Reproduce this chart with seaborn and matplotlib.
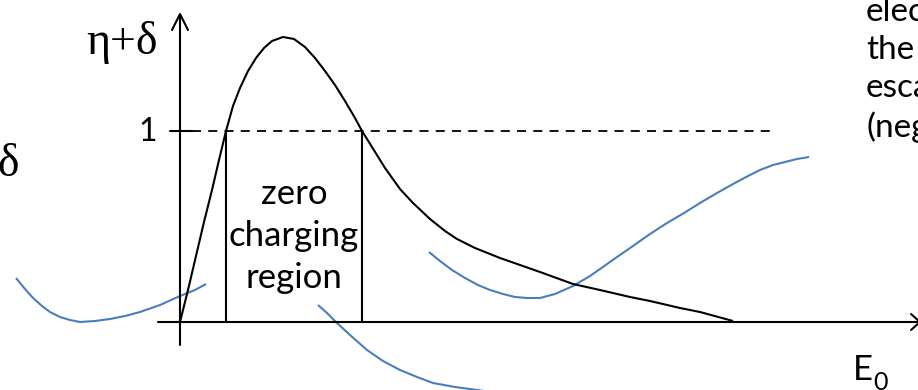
import matplotlib
matplotlib.use("Agg")
import matplotlib.pyplot as plt
import seaborn as sns
import pandas as pd

# ---- data (diagram coordinates; y grows downward) ----
total_x = [180, 188, 196, 204, 212, 219, 226, 233, 240, 248, 256, 264, 272, 283, 294, 305, 315, 325, 335, 345, 355, 362,
           372, 385, 400, 413, 430, 445, 457, 475, 500, 520, 540, 573, 600, 630, 650, 680, 700, 733]
total_y = [322, 290, 256, 222, 190, 160, 131, 106, 88, 71, 58, 48, 41, 37, 39, 47, 58, 71, 85, 101, 118, 131,
           147, 168, 189, 203, 219, 231, 239, 248, 258, 265, 272, 284, 290, 297, 301, 308, 312, 321]

blue1_x = [16, 25, 33, 42, 50, 60, 70, 80, 95, 110, 125, 140, 160, 180, 195, 206]
blue1_y = [278, 289, 298, 306, 312, 317, 320, 322, 321, 319, 316, 312, 305, 296, 290, 284]

blue2_x = [318, 327, 337, 350, 367, 383, 400, 417, 433, 455, 477, 492]
blue2_y = [305, 313, 323, 335, 350, 361, 370, 377, 383, 387, 390, 392]

blue3_x = [429, 440, 452, 465, 478, 490, 503, 515, 527, 540, 555, 573, 590, 600, 617, 633, 650, 667, 684, 700, 717,
           733, 748, 760, 773, 785, 797, 809]
blue3_y = [252, 261, 270, 278, 285, 290, 294, 297, 298, 298, 294, 286, 276, 269, 257, 246, 234, 223, 213, 203, 193,
           184, 176, 170, 165, 162, 159, 157]

region_x = [226, 362]          # edges of the zero charging region
unity_level = 131              # y position of eta+delta = 1
axis_origin = (180, 322)

BLUE = "#4a7ebb"

sns.set_theme(style="white")
plt.rcParams["font.family"] = ["Lato", "DejaVu Sans"]
plt.rcParams["text.color"] = "black"

fig = plt.figure(figsize=(9.18, 3.9), dpi=100)
ax = fig.add_axes([0, 0, 1, 1])
ax.set_xlim(0, 918)
ax.set_ylim(390, 0)
ax.axis("off")

def curve(xs, ys, color, lw):
    df = pd.DataFrame({"x": xs, "y": ys})
    sns.lineplot(data=df, x="x", y="y", sort=False, estimator=None, color=color, lw=lw, ax=ax,
                 solid_capstyle="butt", solid_joinstyle="round")

curve(blue1_x, blue1_y, BLUE, 1.5)
curve(blue2_x, blue2_y, BLUE, 1.5)
curve(blue3_x, blue3_y, BLUE, 1.5)
curve(total_x, total_y, "black", 1.5)

ox, oy = axis_origin
# axes
ax.plot([ox, ox], [345, 15], color="black", lw=1.5)
ax.plot([158, 918], [oy, oy], color="black", lw=1.5)
ax.plot([172, ox, 188], [30, 14, 30], color="black", lw=1.5)
ax.plot([911, 920, 911], [314, 322, 330], color="black", lw=1.5)
# unity tick and dashed line
ax.plot([170, 192], [unity_level, unity_level], color="black", lw=1.5)
ax.plot([192, 770], [unity_level, unity_level], color="black", lw=1.3, dashes=(5, 4))
# region edges
for rx in region_x:
    ax.plot([rx, rx], [unity_level, oy], color="black", lw=1.5)

serif = ["Liberation Serif", "DejaVu Serif"]
ax.text(158, 43, "η+δ", fontsize=33, family=serif, ha="right", va="center", color="black")
ax.text(20, 165, "η+δ", fontsize=33, family=serif, ha="right", va="center", color="black")
ax.text(157, 132, "1", fontsize=23, ha="right", va="center", color="black")
ax.text(294, 236, "zero\ncharging\nregion", fontsize=25, ha="center", va="center", linespacing=1.38, color="black")
ax.text(866, 70, "electrons\nthe\nescape\n(negative", fontsize=24, ha="left", va="center", linespacing=1.34,
        color="black")
ax.text(853, 380, "E", fontsize=25, ha="left", va="baseline", color="black")
ax.text(873, 390, "0", fontsize=18, ha="left", va="baseline", color="black")

fig.savefig("out.png", dpi=100)
